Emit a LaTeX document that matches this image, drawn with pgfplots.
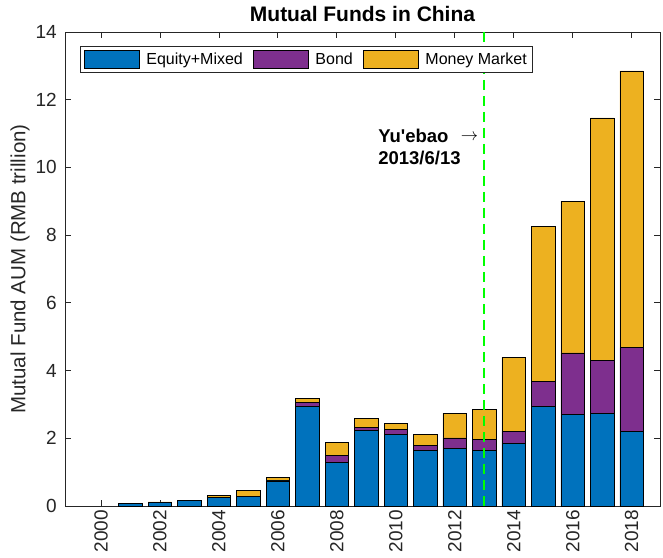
\documentclass[border=0pt]{standalone}
\usepackage{fontspec}
\setmainfont{Liberation Sans}
\usepackage{pgfplots}
\pgfplotsset{compat=1.18}

\definecolor{eqblue}{rgb}{0,0.447,0.741}
\definecolor{bondpurple}{rgb}{0.494,0.184,0.556}
\definecolor{mmyellow}{rgb}{0.929,0.694,0.125}
\definecolor{axgray}{rgb}{0.15,0.15,0.15}

% shared frame so the overlay axis lines up with the bar axis
\pgfplotsset{
  fundframe/.style={
    scale only axis, width=595pt, height=474pt,
    xmin=1998.78, xmax=2018.96, ymin=0, ymax=14,
  }
}

\begin{document}
\begin{tikzpicture}
\path[use as bounding box] (-65pt,-51pt) rectangle (598pt,506pt);

% stacked AUM bars (RMB trillion)
\begin{axis}[fundframe,
  ybar stacked, bar width=0.8,
  axis line style={axgray, line width=0.8pt},
  tick style={axgray, line width=0.8pt},
  major tick length=6pt,
  tick align=inside,
  xtick={2000,2002,...,2018},
  ytick={0,2,...,14},
  /pgf/number format/1000 sep={},
  /pgf/number format/assume math mode=true,
  ticklabel style={font=\fontsize{19}{22}\selectfont, text=axgray},
  xticklabel style={rotate=90, anchor=east, inner xsep=4pt, inner ysep=0pt},
  yticklabel style={inner xsep=0pt, xshift=-8pt},
  title={Mutual Funds in China},
  title style={font=\bfseries\fontsize{21}{25}\selectfont, at={(0.5,1)}, anchor=base, yshift=4pt},
  ylabel={Mutual Fund AUM (RMB trillion)},
  ylabel style={font=\fontsize{20.5}{24}\selectfont, text=axgray,
    at={(axis description cs:-0.0756,0.5)}, anchor=center},
  every axis plot/.append style={draw=black, line width=0.8pt},
]
% Equity + Mixed
\addplot[fill=eqblue] coordinates {
  (2001,0.07) (2002,0.11) (2003,0.17) (2004,0.25) (2005,0.27) (2006,0.74)
  (2007,2.95) (2008,1.29) (2009,2.24) (2010,2.11) (2011,1.65) (2012,1.70)
  (2013,1.64) (2014,1.84) (2015,2.95) (2016,2.71) (2017,2.73) (2018,2.21)};
% Bond
\addplot[fill=bondpurple] coordinates {
  (2001,0) (2002,0) (2003,0) (2004,0.01) (2005,0.01) (2006,0.02)
  (2007,0.10) (2008,0.20) (2009,0.09) (2010,0.16) (2011,0.15) (2012,0.31)
  (2013,0.33) (2014,0.37) (2015,0.74) (2016,1.81) (2017,1.57) (2018,2.46)};
% Money Market
\addplot[fill=mmyellow] coordinates {
  (2001,0) (2002,0.01) (2003,0) (2004,0.06) (2005,0.18) (2006,0.09)
  (2007,0.12) (2008,0.40) (2009,0.26) (2010,0.16) (2011,0.31) (2012,0.73)
  (2013,0.89) (2014,2.18) (2015,4.57) (2016,4.48) (2017,7.16) (2018,8.18)};
\end{axis}

% Yu'ebao launch marker, annotation and legend
\begin{axis}[fundframe, hide axis,
  legend columns=3,
  legend cell align=left,
  legend image code/.code={\draw[#1] (0pt,-8.8pt) rectangle (55pt,8.8pt);},
  legend style={at={(axis description cs:0.0252,0.971)}, anchor=north west,
    draw=axgray, line width=0.6pt, fill=white,
    font=\fontsize{16}{19}\selectfont, inner xsep=3.5pt, inner ysep=4pt,
    /tikz/every odd column/.append style={column sep=5pt},
    /tikz/every even column/.append style={column sep=8pt}},
]
\addplot[forget plot, color={rgb,1:red,0;green,1;blue,0}, line width=2pt,
  dash pattern=on 10pt off 6pt] coordinates {(2013,14) (2013,0)};
\addlegendimage{fill=eqblue, draw=black, line width=0.6pt}
\addlegendimage{fill=bondpurple, draw=black, line width=0.6pt}
\addlegendimage{fill=mmyellow, draw=black, line width=0.6pt}
\legend{Equity+Mixed, Bond, Money Market}
\node[anchor=base west, inner sep=0pt, font=\bfseries\fontsize{18.5}{22}\selectfont]
  at (axis cs:2009.40,10.75) {Yu\textquotesingle ebao};
\node[anchor=base west, inner sep=0pt, font=\bfseries\fontsize{18.5}{22}\selectfont]
  at (axis cs:2009.40,10.09) {2013/6/13};
\node[anchor=center, inner sep=0pt, font=\fontsize{19}{22}\selectfont]
  at (axis cs:2012.5,10.89) {$\rightarrow$};
\end{axis}
\end{tikzpicture}
\end{document}
